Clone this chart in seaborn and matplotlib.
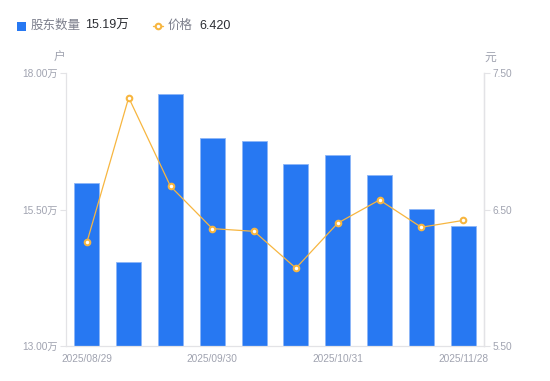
import numpy as np
import pandas as pd
import matplotlib
matplotlib.use("Agg")
import matplotlib.pyplot as plt
import seaborn as sns
from matplotlib.patches import Rectangle
from matplotlib.lines import Line2D

dates = ["2025/08/29", "2025/09/10", "2025/09/19", "2025/09/30", "2025/10/10",
         "2025/10/20", "2025/10/31", "2025/11/10", "2025/11/20", "2025/11/28"]
holders = [15.99, 14.54, 17.62, 16.81, 16.75, 16.33, 16.50, 16.13, 15.51, 15.19]  # 万户
price = [6.26, 7.32, 6.67, 6.36, 6.34, 6.07, 6.40, 6.57, 6.37, 6.42]
shown_ticks = ["2025/08/29", "2025/09/30", "2025/10/31", "2025/11/28"]

df = pd.DataFrame({"date": dates, "holders": holders, "price": price})

sns.set_theme(style="white")
plt.rcParams["font.family"] = ["Liberation Sans", "Noto Sans CJK SC", "DejaVu Sans"]

blue = "#2778F2"
orange = "#F7B640"
grey_txt = "#A0A3B0"
axis_col = "#E3E3E6"

fig = plt.figure(figsize=(5.5, 3.81), dpi=100)
ax = fig.add_axes([66/550, 1-346/381, (484-66)/550, (346-73)/381])

sns.barplot(data=df, x="date", y="holders", color=blue, width=0.6,
            edgecolor="#8DB6F7", linewidth=0.6, saturation=1, ax=ax)
ax.set_ylim(13, 18)
ax.set_xlim(-0.5, 9.5)
ax.set_yticks([13, 15.5, 18])
ax.set_yticklabels([f"{v:.2f}万" for v in [13, 15.5, 18]])
ax.set_xticks(range(len(dates)))
ax.set_xticklabels([d if d in shown_ticks else "" for d in dates])
ax.tick_params(axis="x", length=0, pad=6, labelsize=7.3, labelcolor=grey_txt)
ax.tick_params(axis="y", length=4, width=0.8, color=axis_col, pad=2,
               labelsize=7.3, labelcolor=grey_txt, left=True)
ax.set_xlabel("")
ax.set_ylabel("")
ax.spines["top"].set_visible(False)
for s in ["left", "bottom", "right"]:
    ax.spines[s].set_color(axis_col)
    ax.spines[s].set_linewidth(0.9)

ax2 = ax.twinx()
sns.pointplot(data=df, x="date", y="price", color=orange, ax=ax2,
              markers="o", markersize=4, linewidth=0.9,
              markerfacecolor="white", markeredgecolor=orange, markeredgewidth=1.5)
ax2.set_ylim(5.5, 7.5)
ax2.set_xlim(-0.5, 9.5)
ax2.set_yticks([5.5, 6.5, 7.5])
ax2.set_yticklabels([f"{v:.2f}" for v in [5.5, 6.5, 7.5]])
ax2.tick_params(axis="y", length=4, width=0.8, color=axis_col, pad=2,
                labelsize=7.3, labelcolor=grey_txt, right=True)
ax2.set_ylabel("")
ax2.set_xlabel("")
for s in ["top", "left", "bottom"]:
    ax2.spines[s].set_visible(False)
ax2.spines["right"].set_color(axis_col)
ax2.spines["right"].set_linewidth(0.9)

# unit labels
fig.text(59/550, 1-58/381, "户", ha="center", va="center", fontsize=8.5, color=grey_txt)
fig.text(490/550, 1-58/381, "元", ha="center", va="center", fontsize=8.5, color=grey_txt)

# legend row
ly = 1-26/381
fig.patches.append(Rectangle((17/550, ly-4.5/381), 9/550, 9/381, transform=fig.transFigure,
                             facecolor=blue, edgecolor="none"))
fig.text(31/550, ly, "股东数量", ha="left", va="center", fontsize=9, color="#7C7F8C")
fig.text(85/550, ly, f"{holders[-1]:.2f}万", ha="left", va="center", fontsize=9, color="#2B2D33")
fig.lines.append(Line2D([153/550, 163/550], [ly, ly], transform=fig.transFigure,
                        color=orange, linewidth=1))
fig.lines.append(Line2D([158/550], [ly], transform=fig.transFigure, color=orange,
                        marker="o", markersize=4, markerfacecolor="white",
                        markeredgewidth=1.5, linestyle="none"))
fig.text(168/550, ly, "价格", ha="left", va="center", fontsize=9, color="#7C7F8C")
fig.text(199/550, ly, f"{price[-1]:.3f}", ha="left", va="center", fontsize=9, color="#2B2D33")

fig.savefig("out.png", dpi=100)
